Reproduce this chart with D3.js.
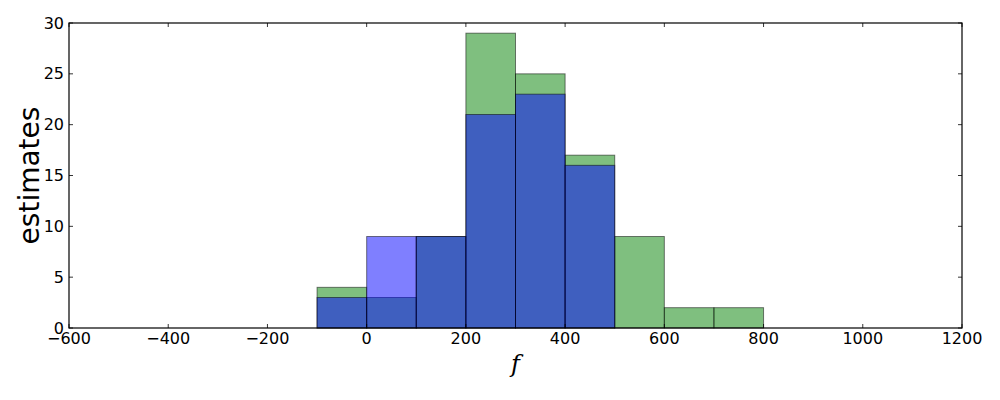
<!DOCTYPE html>
<html><head><meta charset="utf-8">
<script src="https://cdn.jsdelivr.net/npm/d3@7"></script>
<style>body{margin:0;background:#fff}svg{display:block}</style>
</head><body>
<svg id="c" width="1000" height="400"></svg>
<script>
const binEdges = [-100, 0, 100, 200, 300, 400, 500, 600, 700, 800];
const greenCounts = [4, 3, 9, 29, 25, 17, 9, 2, 2];
const blueCounts = [3, 9, 9, 21, 23, 16, 0, 0, 0];
const xTicks = [-600, -400, -200, 0, 200, 400, 600, 800, 1000, 1200];
const yTicks = [0, 5, 10, 15, 20, 25, 30];

const L = 69, R = 962, T = 23, B = 328;
const svg = d3.select("#c");
const x = d3.scaleLinear().domain([-600, 1200]).range([L, R]);
const y = d3.scaleLinear().domain([0, 30]).range([B, T]);

function drawHist(counts, color) {
  const data = counts.map((c, i) => ({x0: binEdges[i], x1: binEdges[i+1], c})).filter(d => d.c > 0);
  svg.append("g").selectAll("rect").data(data).join("rect")
    .attr("x", d => x(d.x0)).attr("y", d => y(d.c))
    .attr("width", d => x(d.x1) - x(d.x0)).attr("height", d => y(0) - y(d.c))
    .attr("fill", color).attr("fill-opacity", 0.5)
    .attr("stroke", "#000").attr("stroke-opacity", 0.5).attr("stroke-width", 1);
}
drawHist(greenCounts, "#008000");
drawHist(blueCounts, "#0000ff");

const font = "DejaVu Sans";
svg.append("rect").attr("x", L).attr("y", T).attr("width", R - L).attr("height", B - T)
  .attr("fill", "none").attr("stroke", "#000").attr("stroke-width", 1.2);

const tk = svg.append("g").attr("stroke", "#000").attr("stroke-width", 0.8);
xTicks.forEach(v => {
  tk.append("line").attr("x1", x(v)).attr("x2", x(v)).attr("y1", B).attr("y2", B - 4);
  tk.append("line").attr("x1", x(v)).attr("x2", x(v)).attr("y1", T).attr("y2", T + 4);
});
yTicks.forEach(v => {
  tk.append("line").attr("x1", L).attr("x2", L + 4).attr("y1", y(v)).attr("y2", y(v));
  tk.append("line").attr("x1", R).attr("x2", R - 4).attr("y1", y(v)).attr("y2", y(v));
});

const fmt = v => (v < 0 ? "\u2212" + Math.abs(v) : String(v));
svg.append("g").selectAll("text").data(xTicks).join("text")
  .attr("x", d => x(d)).attr("y", 344).attr("text-anchor", "middle")
  .attr("font-family", font).attr("font-size", 16).text(fmt);
svg.append("g").selectAll("text").data(yTicks).join("text")
  .attr("x", 64).attr("y", d => y(d) + 5.5).attr("text-anchor", "end")
  .attr("font-family", font).attr("font-size", 16).text(d => d);

svg.append("text").attr("transform", "translate(39," + ((T + B) / 2) + ") rotate(-90)")
  .attr("text-anchor", "middle").attr("font-family", font).attr("font-size", 28).text("estimates");
svg.append("text").attr("x", (L + R) / 2).attr("y", 372).attr("text-anchor", "middle")
  .attr("font-family", "DejaVu Serif").attr("font-style", "italic").attr("font-size", 24).text("f");
</script>
</body></html>
